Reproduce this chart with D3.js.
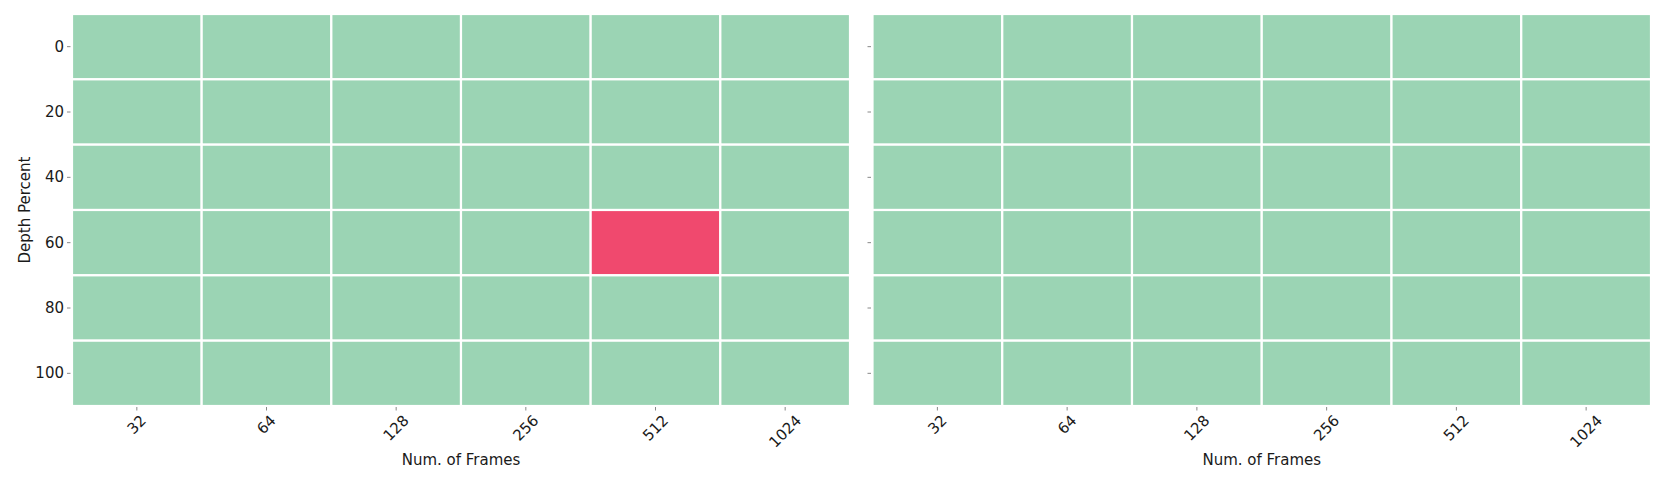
<!DOCTYPE html>
<html><head><meta charset="utf-8">
<script src="https://cdn.jsdelivr.net/npm/d3@7"></script>
<style>body{margin:0;background:#fff}svg{display:block}text{font-family:"DejaVu Sans",sans-serif;fill:#1a1a1a}</style>
</head><body>
<svg id="c" width="1661" height="478"></svg>
<script>
const frames = ["32","64","128","256","512","1024"];
const depths = ["0","20","40","60","80","100"];
// 1 = pass (green), 0 = fail (red); rows follow depths, columns follow frames
const leftValues = [
  [1,1,1,1,1,1],
  [1,1,1,1,1,1],
  [1,1,1,1,1,1],
  [1,1,1,1,0,1],
  [1,1,1,1,1,1],
  [1,1,1,1,1,1]
];
const rightValues = [
  [1,1,1,1,1,1],
  [1,1,1,1,1,1],
  [1,1,1,1,1,1],
  [1,1,1,1,1,1],
  [1,1,1,1,1,1],
  [1,1,1,1,1,1]
];
const xLabel = "Num. of Frames";
const yLabel = "Depth Percent";

(function(){
const svg = d3.select("#c");
const color = d3.scaleOrdinal().domain([0,1]).range(["#f0496e","#9bd4b4"]);
const yTop = 14, yBot = 406;
const panels = [
  {x0:72, x1:850, data:leftValues, labels:true},
  {x0:872.5, x1:1651, data:rightValues, labels:false}
];
const y = d3.scaleBand().domain(depths).range([yTop,yBot]);
const fs = 15;
panels.forEach(p => {
  const x = d3.scaleBand().domain(frames).range([p.x0,p.x1]);
  const g = svg.append("g");
  const cells = [];
  p.data.forEach((row,i)=>row.forEach((v,j)=>cells.push({d:depths[i],f:frames[j],v})));
  g.selectAll("rect").data(cells).enter().append("rect")
    .attr("x",d=>x(d.f)).attr("y",d=>y(d.d))
    .attr("width",x.bandwidth()).attr("height",y.bandwidth())
    .attr("fill",d=>color(d.v)).attr("stroke","#fff").attr("stroke-width",2.2);
  frames.forEach(f=>{
    const cx = x(f)+x.bandwidth()/2;
    g.append("line").attr("x1",cx).attr("x2",cx).attr("y1",yBot+1).attr("y2",yBot+4.5)
      .attr("stroke","#888").attr("stroke-width",1);
    const t = g.append("text").text(f).style("font-size",fs+"px")
      .attr("text-anchor","middle").attr("dominant-baseline","central");
    const w = t.node().getComputedTextLength();
    const h = fs*0.95;
    const cy = 413 + (w+h)*0.3536;
    t.attr("transform",`translate(${cx},${cy}) rotate(-45)`);
  });
  depths.forEach(d=>{
    const cy = y(d)+y.bandwidth()/2;
    g.append("line").attr("x1",p.x0-5).attr("x2",p.x0-1.5).attr("y1",cy).attr("y2",cy)
      .attr("stroke","#888").attr("stroke-width",1);
    if(p.labels){
      g.append("text").text(d).style("font-size",fs+"px").attr("x",p.x0-8).attr("y",cy)
        .attr("text-anchor","end").attr("dominant-baseline","central");
    }
  });
  g.append("text").text(xLabel).style("font-size",fs+"px")
    .attr("x",(p.x0+p.x1)/2).attr("y",465).attr("text-anchor","middle");
  if(p.labels){
    g.append("text").text(yLabel).style("font-size",fs+"px")
      .attr("transform",`translate(30,${(yTop+yBot)/2}) rotate(-90)`).attr("text-anchor","middle");
  }
});
})();
</script>
</body></html>
